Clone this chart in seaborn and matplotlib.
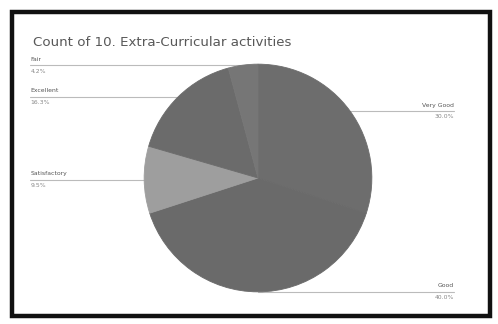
import numpy as np
import matplotlib
matplotlib.use("Agg")
import matplotlib.pyplot as plt
import seaborn as sns
from matplotlib.patches import Rectangle

sns.set_theme(style="white")
plt.rcParams['font.family'] = ['DejaVu Sans']

title = "Count of 10. Extra-Curricular activities"
categories = ["Very Good", "Good", "Satisfactory", "Excellent", "Fair"]
counts = [30.0, 40.0, 9.5, 16.3, 4.2]
sides = ["right", "right", "left", "left", "left"]
colors = ["#6d6d6d", "#6a6a6a", "#9e9e9e", "#6b6b6b", "#767676"]

W, H = 498, 324
fig = plt.figure(figsize=(W / 100, H / 100), dpi=100)
fig.patch.set_facecolor("white")

bg = fig.add_axes([0, 0, 1, 1])
bg.set_xlim(0, W)
bg.set_ylim(H, 0)
bg.axis("off")
bg.add_patch(Rectangle((12, 12), 478, 304, fill=False, edgecolor="#111111", linewidth=3.2))
bg.text(33, 43, title, fontsize=9.6, color="#585858", va="center", ha="left")

cx, cy, R = 258, 178, 115
ax = fig.add_axes([(cx - R) / W, (H - cy - R) / H, 2 * R / W, 2 * R / H])
wedges, _ = ax.pie(counts, colors=colors, startangle=90, counterclock=False,
                   radius=1, wedgeprops=dict(linewidth=0.6))
for w, col in zip(wedges, colors):
    w.set_edgecolor(col)
ax.set_xlim(-1.01, 1.01)
ax.set_ylim(-1.01, 1.01)
ax.axis("off")

total = sum(counts)
left_x = (28 - cx) / R
right_x = (456 - cx) / R
for w, lab, c, side in zip(wedges, categories, counts, sides):
    mid = np.deg2rad((w.theta1 + w.theta2) / 2)
    ex, ey = np.cos(mid), np.sin(mid)
    pct = f"{100 * c / total:.1f}%"
    if side == "left":
        x_end, ha = left_x, "left"
    else:
        x_end, ha = right_x, "right"
    ax.plot([ex, x_end], [ey, ey], color="#bbbbbb", lw=0.8, clip_on=False, zorder=0)
    ax.text(x_end, ey + 0.03, lab, fontsize=4.4, color="#555555", ha=ha, va="bottom")
    ax.text(x_end, ey - 0.03, pct, fontsize=4.4, color="#888888", ha=ha, va="top")

fig.savefig("out.png", dpi=100)
